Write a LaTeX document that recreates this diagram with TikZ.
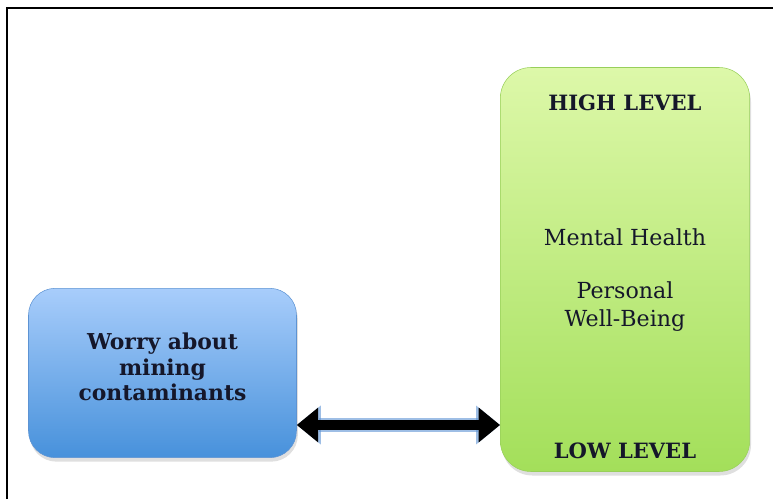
\documentclass[tikz,border=0pt]{standalone}
\usepackage{fontspec}
\setmainfont{DejaVu Serif}
\usetikzlibrary{positioning,shadows,arrows.meta}

\definecolor{worrytop}{HTML}{A8CDFB}
\definecolor{worrybot}{HTML}{4791DB}
\definecolor{worryedge}{HTML}{5D93D3}
\definecolor{healthtop}{HTML}{DDF8A9}
\definecolor{healthbot}{HTML}{A3DF5A}
\definecolor{healthedge}{HTML}{98CF5A}
\definecolor{ink}{HTML}{15172A}

\tikzset{
  box/.style={rounded corners=20pt, drop shadow={opacity=0.25, shadow xshift=1pt, shadow yshift=-3pt}},
  worrybox/.style={box, draw=worryedge, top color=worrytop, bottom color=worrybot,
    minimum width=201pt, minimum height=127pt, align=center, text=ink,
    font=\bfseries\fontsize{16.4}{19}\selectfont},
  healthbox/.style={box, rounded corners=23pt, draw=healthedge, top color=healthtop, bottom color=healthbot,
    minimum width=187pt, minimum height=303pt},
  lvl/.style={text=ink, font=\bfseries\fontsize{15.8}{18}\selectfont},
  label/.style={text=ink, align=center, font=\fontsize{16.6}{21}\selectfont},
}

\begin{document}
\begin{tikzpicture}[x=0.75pt,y=-0.75pt]
\useasboundingbox (0,0) rectangle (773,499);

% frame round the figure
\draw[line width=1.3pt] (7,499) -- (7,8) -- (773,8);

% the two boxes
\node[worrybox] (worry) at (162.5,373) {Worry about\\mining\\contaminants\\[-10pt]};
\node[healthbox] (health) at (625,269.5) {};

% texts in the green box
\node[lvl, below=17.5pt of health.north] (high) {HIGH LEVEL};
\node[label, below=81pt of high] (mental) {Mental Health};
\node[label, below=20pt of mental] (wellbeing) {Personal\\Well-Being};
\node[lvl, above=6pt of health.south] (low) {LOW LEVEL};

% double arrow between them
\path (worry.east) ++(0,52) coordinate (a);
\coordinate (b) at (a -| health.west);
\draw[line width=10pt, worryedge, opacity=0.6,
  {Triangle[length=18pt,width=28pt]}-{Triangle[length=18pt,width=28pt]}] (a) -- (b);
\draw[line width=8pt, black,
  {Triangle[length=16pt,width=25pt]}-{Triangle[length=16pt,width=25pt]}] (a) -- (b);
\end{tikzpicture}
\end{document}
